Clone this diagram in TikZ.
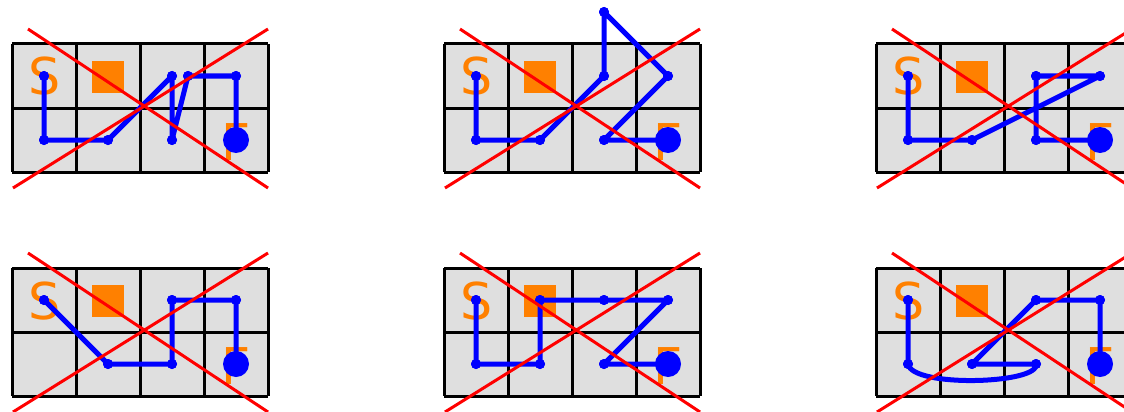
\documentclass[tikz,border=0pt]{standalone}
\usepackage{fontspec}
\newfontfamily\dejavu{DejaVu Sans}
\definecolor{cellgray}{RGB}{223,223,223}
\definecolor{tileorange}{RGB}{255,128,0}
\tikzset{
  gridline/.style={draw=black, line width=3pt},
  pathline/.style={draw=blue, line width=5pt, line join=round},
  dot/.style={circle, fill=blue, inner sep=0pt, minimum size=10pt},
  goal/.style={circle, fill=blue, inner sep=0pt, minimum size=26pt},
  cross/.style={draw=red, line width=3pt},
  letter/.style={text=tileorange, font=\dejavu\fontsize{50.7}{60}\selectfont, inner sep=0pt, anchor=base west},
  block/.style={fill=tileorange, minimum size=32pt, inner sep=0pt},
}
\newcommand\gridpanel[3]{%
  \begin{scope}[shift={(#2,#3)}]
    \fill[cellgray] (12,44) rectangle (268,172);
    \foreach \xx in {12,76,140,204,268} {\draw[gridline] (\xx,44) -- (\xx,172);}
    \foreach \yy in {44,108,172} {\draw[gridline] (12,\yy) -- (268,\yy);}
    \node[letter] (#1S) at (28,95) {S};
    \node[block] (#1B) at (108,77) {};
    \node[letter] (#1F) at (221,160) {F};
  \end{scope}}
\newcommand\redcross[2]{%
  \begin{scope}[shift={(#1,#2)}]
    \draw[cross] (28,29) -- (268,188);
    \draw[cross] (268,29) -- (13,188);
  \end{scope}}
\begin{document}
\begin{tikzpicture}[x=1pt,y=-1pt]
  \useasboundingbox (0,0) rectangle (1124,412);
  \clip (0,0) rectangle (1124,412);
  \gridpanel{pa}{0}{0}
  \gridpanel{pb}{432}{0}
  \gridpanel{pc}{864}{0}
  \gridpanel{pd}{0}{224}
  \gridpanel{pe}{432}{224}
  \gridpanel{pf}{864}{224}
  % panel 1
  \begin{scope}[shift={(0,0)}]
    \node[dot] (a1) at (44,76) {};
    \node[dot] (a2) at (44,140) {};
    \node[dot] (a3) at (108,140) {};
    \node[dot] (a4) at (172,76) {};
    \node[dot] (a5) at (172,140) {};
    \node[dot] (a6) at (188,76) {};
    \node[dot] (a7) at (236,76) {};
    \coordinate (a8) at (236,140);
    \draw[pathline] (a1.center) -- (a2.center) -- (a3.center) -- (a4.center) -- (a5.center) -- (a6.center) -- (a7.center) -- (a8);
    \foreach \c in {a1,a2,a3,a4,a5,a6,a7} {\node[dot] at (\c) {};}
    \node[goal] (a9) at (a8) {};
  \end{scope}
  % panel 2
  \begin{scope}[shift={(432,0)}]
    \node[dot] (b1) at (44,76) {};
    \node[dot] (b2) at (44,140) {};
    \node[dot] (b3) at (108,140) {};
    \node[dot] (b4) at (172,76) {};
    \node[dot] (b5) at (172,12) {};
    \node[dot] (b6) at (236,76) {};
    \node[dot] (b7) at (172,140) {};
    \coordinate (b8) at (236,140);
    \draw[pathline] (b1.center) -- (b2.center) -- (b3.center) -- (b4.center) -- (b5.center) -- (b6.center) -- (b7.center) -- (b8);
    \foreach \c in {b1,b2,b3,b4,b5,b6,b7} {\node[dot] at (\c) {};}
    \node[goal] (b9) at (b8) {};
  \end{scope}
  % panel 3
  \begin{scope}[shift={(864,0)}]
    \node[dot] (c1) at (44,76) {};
    \node[dot] (c2) at (44,140) {};
    \node[dot] (c3) at (108,140) {};
    \node[dot] (c4) at (236,76) {};
    \node[dot] (c5) at (172,76) {};
    \node[dot] (c6) at (172,140) {};
    \coordinate (c7) at (236,140);
    \draw[pathline] (c1.center) -- (c2.center) -- (c3.center) -- (c4.center) -- (c5.center) -- (c6.center) -- (c7);
    \foreach \c in {c1,c2,c3,c4,c5,c6} {\node[dot] at (\c) {};}
    \node[goal] (c8) at (c7) {};
  \end{scope}
  % panel 4
  \begin{scope}[shift={(0,224)}]
    \node[dot] (d1) at (44,76) {};
    \node[dot] (d2) at (108,140) {};
    \node[dot] (d3) at (172,140) {};
    \node[dot] (d4) at (172,76) {};
    \node[dot] (d5) at (236,76) {};
    \coordinate (d6) at (236,140);
    \draw[pathline] (d1.center) -- (d2.center) -- (d3.center) -- (d4.center) -- (d5.center) -- (d6);
    \foreach \c in {d1,d2,d3,d4,d5} {\node[dot] at (\c) {};}
    \node[goal] (d7) at (d6) {};
  \end{scope}
  % panel 5
  \begin{scope}[shift={(432,224)}]
    \node[dot] (e1) at (44,76) {};
    \node[dot] (e2) at (44,140) {};
    \node[dot] (e3) at (108,140) {};
    \node[dot] (e4) at (108,76) {};
    \node[dot] (e5) at (172,76) {};
    \node[dot] (e6) at (236,76) {};
    \node[dot] (e7) at (172,140) {};
    \coordinate (e8) at (236,140);
    \draw[pathline] (e1.center) -- (e2.center) -- (e3.center) -- (e4.center) -- (e5.center) -- (e6.center) -- (e7.center) -- (e8);
    \foreach \c in {e1,e2,e3,e4,e5,e6,e7} {\node[dot] at (\c) {};}
    \node[goal] (e9) at (e8) {};
  \end{scope}
  % panel 6
  \begin{scope}[shift={(864,224)}]
    \node[dot] (f1) at (44,76) {};
    \node[dot] (f2) at (44,140) {};
    \node[dot] (f3) at (172,140) {};
    \node[dot] (f4) at (108,140) {};
    \node[dot] (f5) at (172,76) {};
    \node[dot] (f6) at (236,76) {};
    \coordinate (f7) at (236,140);
    \draw[pathline] (f1.center) -- (f2.center) .. controls (48,164) and (176,160) .. (f3.center) -- (f4.center) -- (f5.center) -- (f6.center) -- (f7);
    \foreach \c in {f1,f2,f3,f4,f5,f6} {\node[dot] at (\c) {};}
    \node[goal] (f8) at (f7) {};
  \end{scope}
  \redcross{0}{0}
  \redcross{432}{0}
  \redcross{864}{0}
  \redcross{0}{224}
  \redcross{432}{224}
  \redcross{864}{224}
\end{tikzpicture}
\end{document}
